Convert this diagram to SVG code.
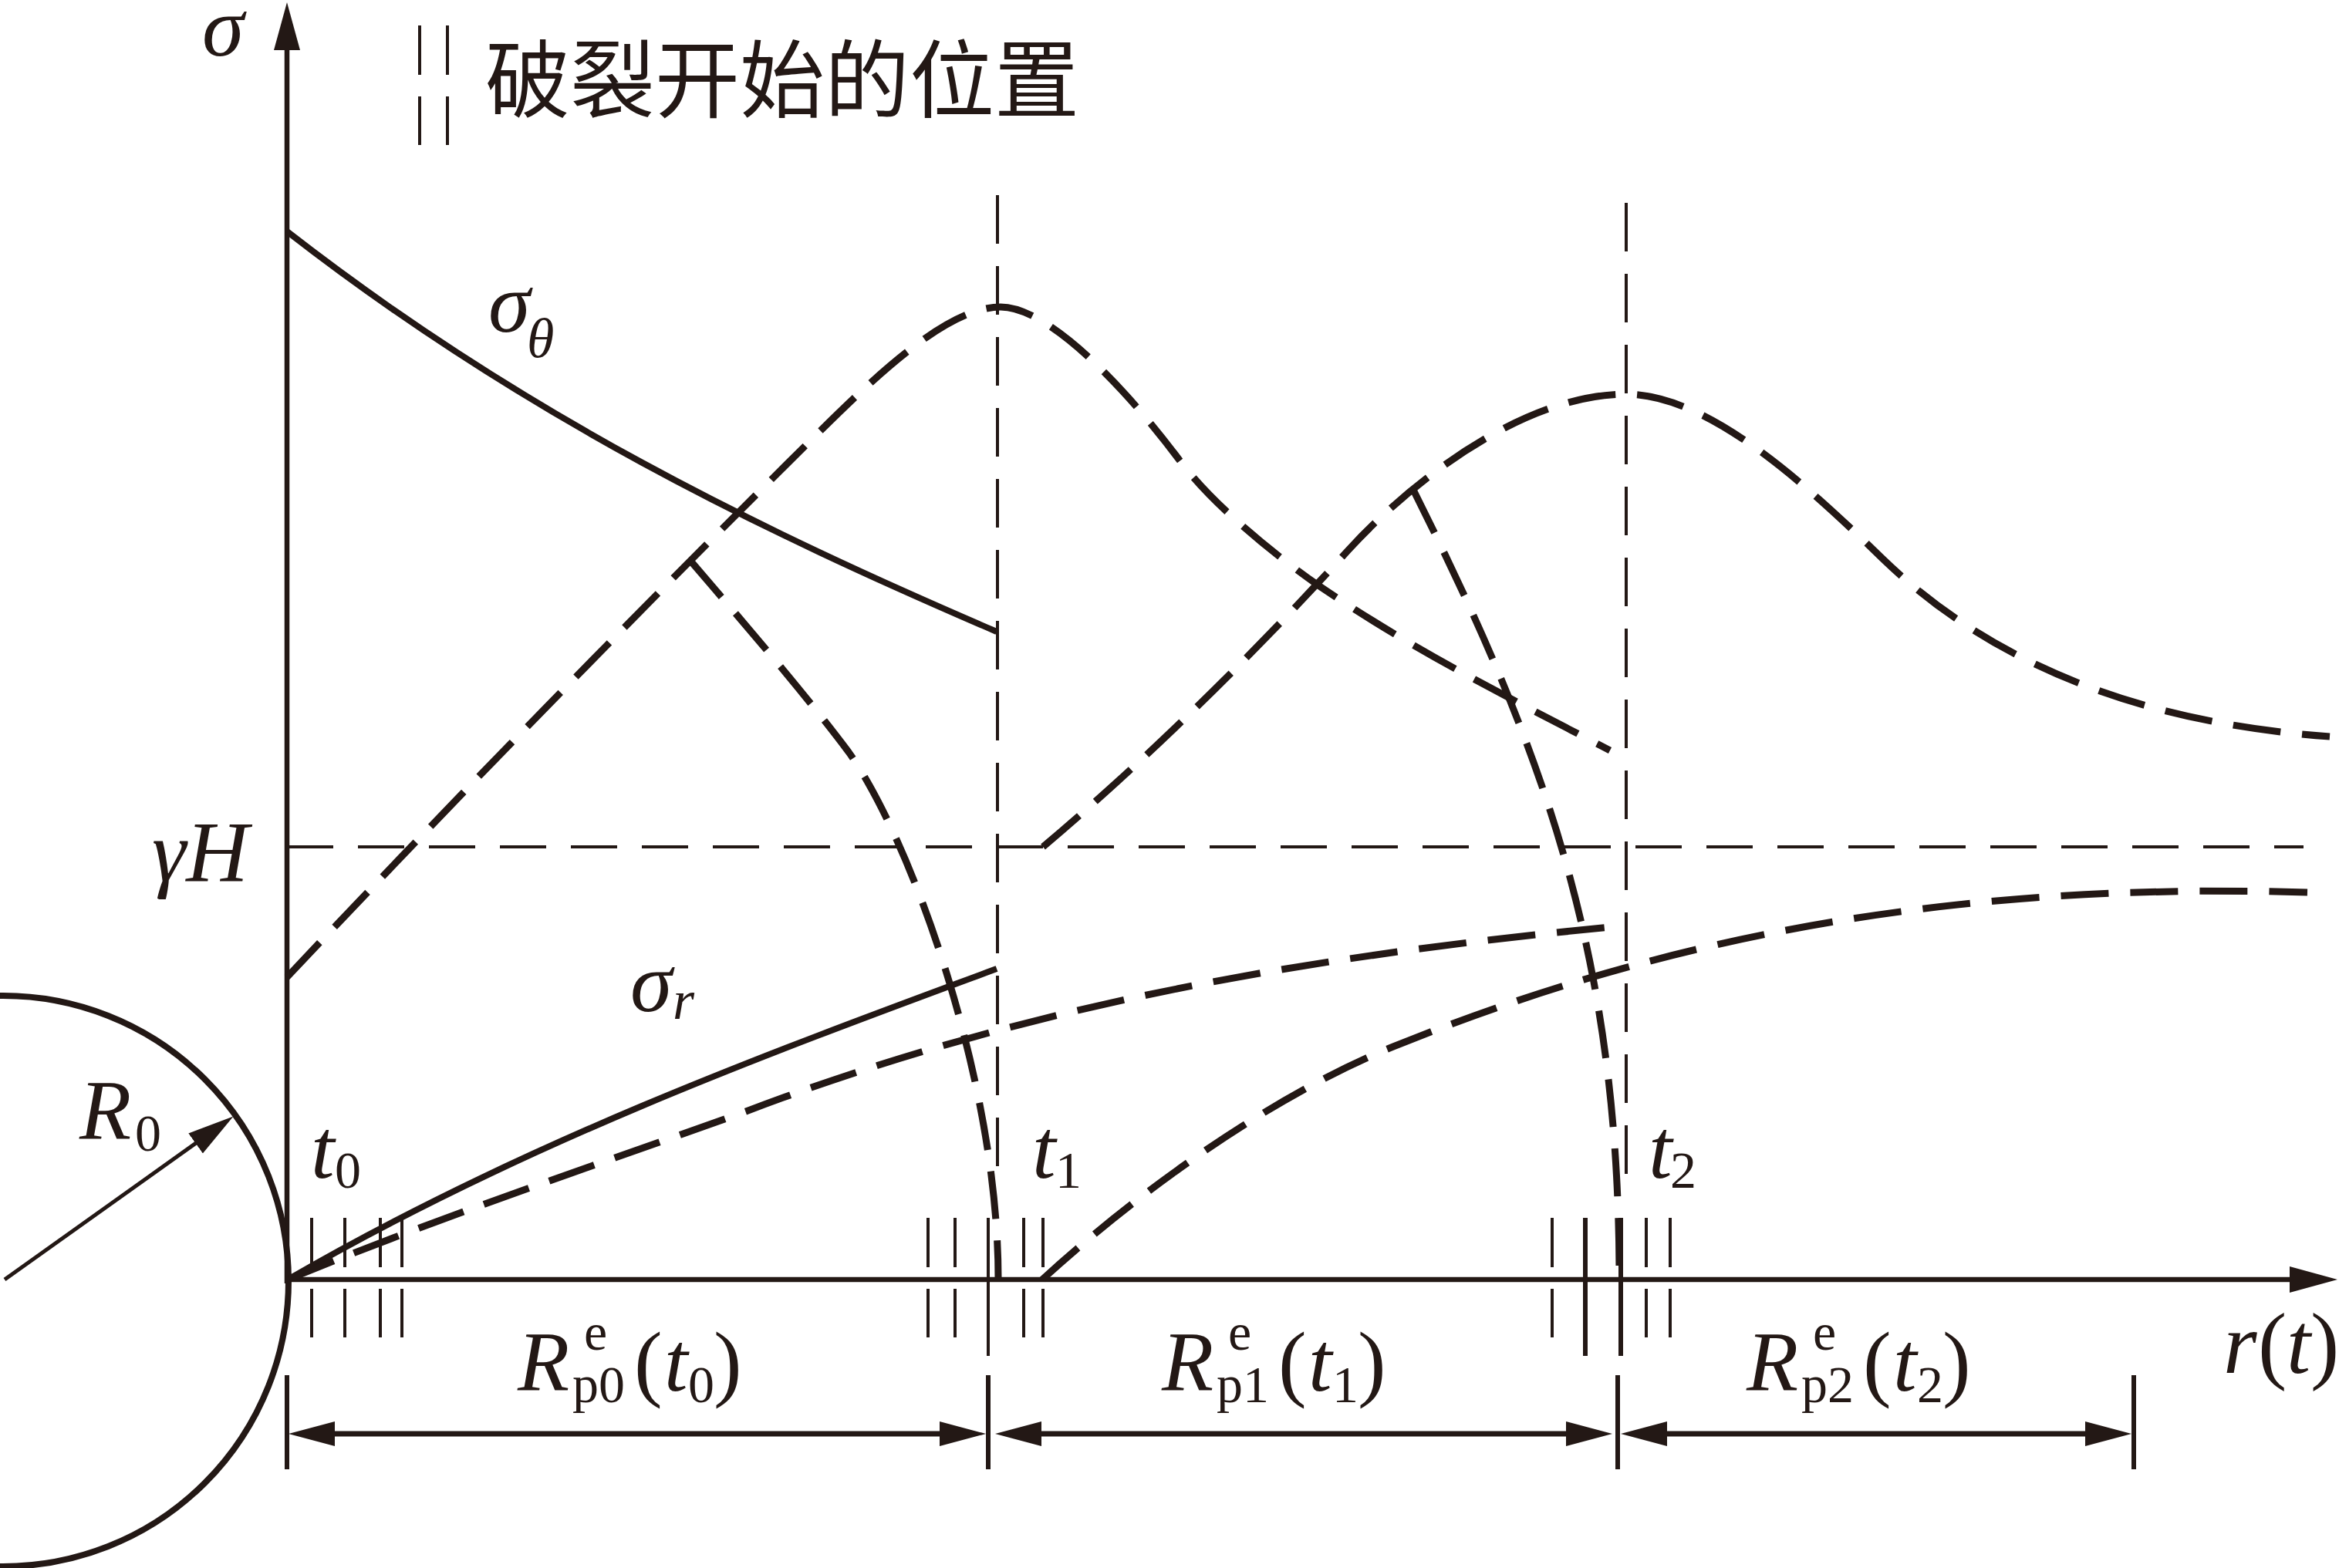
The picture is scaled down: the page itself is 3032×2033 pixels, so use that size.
<svg xmlns="http://www.w3.org/2000/svg" width="3032" height="2033" viewBox="0 0 3032 2033">
<style>
.ln{fill:none;stroke:#231815;stroke-linecap:butt}
.solid{stroke-width:8}
.thick{stroke-width:9;stroke-dasharray:62 28}
.thin{stroke-width:4;stroke-dasharray:63 29}
.gh{stroke-width:4;stroke-dasharray:60 32}
.tk{stroke-width:4}
.tkb{stroke-width:6}
.ext{stroke-width:6}
.dim{stroke-width:7}
.ax{stroke-width:6.5}
text{fill:#231815;font-family:"Liberation Serif","Times New Roman",serif}
.it{font-style:italic}
.big{font-size:110px}
.sub{font-size:68px}
.cjk{font-family:"Noto Sans CJK SC",sans-serif;font-size:110px}
</style>
<defs>
<marker id="ah" markerUnits="userSpaceOnUse" viewBox="0 0 60 32" markerWidth="60" markerHeight="32" refX="30" refY="16" orient="auto-start-reverse"><path d="M0,0L60,16L0,32Z" fill="#231815"/></marker>
<marker id="axh" markerUnits="userSpaceOnUse" viewBox="0 0 62 34" markerWidth="62" markerHeight="34" refX="31" refY="17" orient="auto"><path d="M0,0L62,17L0,34Z" fill="#231815"/></marker>
</defs>
<rect width="3032" height="2033" fill="#ffffff"/>

<g id="axes">
<line class="ln ax" x1="372" y1="1664" x2="372" y2="34" marker-end="url(#axh)"/>
<line class="ln ax" x1="372" y1="1659" x2="2999" y2="1659" marker-end="url(#axh)"/>
</g>

<g id="opening">
<circle class="ln solid" cx="4" cy="1661" r="370"/>
<line class="ln" stroke-width="5" x1="6" y1="1659" x2="278" y2="1465" marker-end="url(#ah)"/>
</g>

<g id="reference-lines">
<line class="ln thin" x1="1293" y1="253" x2="1293" y2="1512"/>
<line class="ln thin" x1="2108" y1="263" x2="2108" y2="1522"/>
<line class="ln gh" x1="372" y1="1098" x2="2986" y2="1098"/>
</g>

<g id="connectors">
<path id="sigma-theta" class="ln solid" d="M372,300 C679,539 985,687 1292,819"/>
<path id="sigma-r" class="ln solid" d="M375,1658 C675,1484 992,1367 1292,1256"/>
<path id="curveA" class="ln thick" d="M372,1267 C600,1025 860,760 1064,558 C1140,483 1230,398 1297,398 C1360,398 1460,504 1530,598 C1572,654 1649,717 1709,759 C1835,845 1961,907 2087,973"/>
<path id="curveB" class="ln thick" d="M895,727 C960,803 1040,895 1100,975 C1180,1087 1294,1400 1294,1658"/>
<path id="curveC" class="ln thick" d="M1352,1098 C1482,988 1618,856 1748,713 C1818,636 1968,511 2108,511 C2218,511 2350,637 2440,724 C2560,840 2740,935 3020,955"/>
<path id="curveD" class="ln thick" d="M1832,635 C2002,975 2099,1238 2099,1658"/>
<path id="curveF" class="ln thick" d="M375,1658 C575,1576 767,1513 967,1441 C1347,1296 1728,1236 2108,1200"/>
<path id="curveG" class="ln thick" d="M1351,1659 C1481,1540 1656,1417 1806,1357 C2080,1247 2450,1140 2991,1157"/>
</g>

<g id="crack-ticks">
<path class="ln tk" d="M404,1579V1643M447,1579V1643M493,1579V1643M521,1579V1643M404,1671V1734M447,1671V1734M493,1671V1734M521,1671V1734"/>
<path class="ln tk" d="M1203,1579V1643M1238,1579V1643M1327,1579V1643M1352,1579V1643M1203,1671V1734M1238,1671V1734M1327,1671V1734M1352,1671V1734M1281,1579V1758"/>
<path class="ln tk" d="M2012,1579V1643M2134,1579V1643M2165,1579V1643M2012,1671V1734M2134,1671V1734M2165,1671V1734"/>
<path class="ln tkb" d="M2055,1579V1758M2101,1579V1758"/>
</g>

<g id="legend">
<path class="ln tk" d="M544,33V97M580,33V97M544,125V188M580,125V188"/>
<text class="cjk" x="629" y="144">破裂开始的位置</text>
</g>

<g id="dimensions">
<path class="ln ext" d="M372,1783V1905M1281,1783V1905M2097,1783V1905M2766,1783V1905"/>
<line class="ln dim" x1="404" y1="1859" x2="1248" y2="1859" marker-start="url(#ah)" marker-end="url(#ah)"/>
<line class="ln dim" x1="1320" y1="1859" x2="2060" y2="1859" marker-start="url(#ah)" marker-end="url(#ah)"/>
<line class="ln dim" x1="2131" y1="1859" x2="2733" y2="1859" marker-start="url(#ah)" marker-end="url(#ah)"/>
</g>

<g id="labels">
<text class="it big" x="262" y="72">σ</text>
<text class="it big" x="633" y="430">σ</text><text class="it" font-size="72" x="683" y="463">θ</text>
<text class="it big" x="817" y="1311">σ</text><text class="it" font-size="72" x="872" y="1321">r</text>
<text class="it" font-size="112" x="197" y="1142">γH</text>
<text class="it big" x="103" y="1477">R</text><text class="sub" x="175" y="1492">0</text>
<text class="it big" x="403" y="1527">t</text><text class="sub" x="434" y="1540">0</text>
<text class="it big" x="1338" y="1527">t</text><text class="sub" x="1368" y="1540">1</text>
<text class="it big" x="2137" y="1527">t</text><text class="sub" x="2165" y="1540">2</text>

<text class="it big" x="671" y="1803">R</text><text class="sub" x="742" y="1818">p0</text><text class="sub" x="757" y="1750">e</text>
<text class="big" x="822" y="1803">(</text><text class="it big" x="861" y="1803">t</text><text class="sub" x="892" y="1818">0</text><text class="big" x="925" y="1803">)</text>

<text class="it big" x="1506" y="1803">R</text><text class="sub" x="1577" y="1818">p1</text><text class="sub" x="1592" y="1750">e</text>
<text class="big" x="1657" y="1803">(</text><text class="it big" x="1696" y="1803">t</text><text class="sub" x="1727" y="1818">1</text><text class="big" x="1760" y="1803">)</text>

<text class="it big" x="2264" y="1803">R</text><text class="sub" x="2335" y="1818">p2</text><text class="sub" x="2350" y="1750">e</text>
<text class="big" x="2415" y="1803">(</text><text class="it big" x="2454" y="1803">t</text><text class="sub" x="2485" y="1818">2</text><text class="big" x="2518" y="1803">)</text>

<text class="it" font-size="112" x="2882" y="1780">r</text><text font-size="112" x="2927" y="1780">(</text><text class="it" font-size="112" x="2964" y="1780">t</text><text font-size="112" x="2995" y="1780">)</text>
</g>
</svg>
